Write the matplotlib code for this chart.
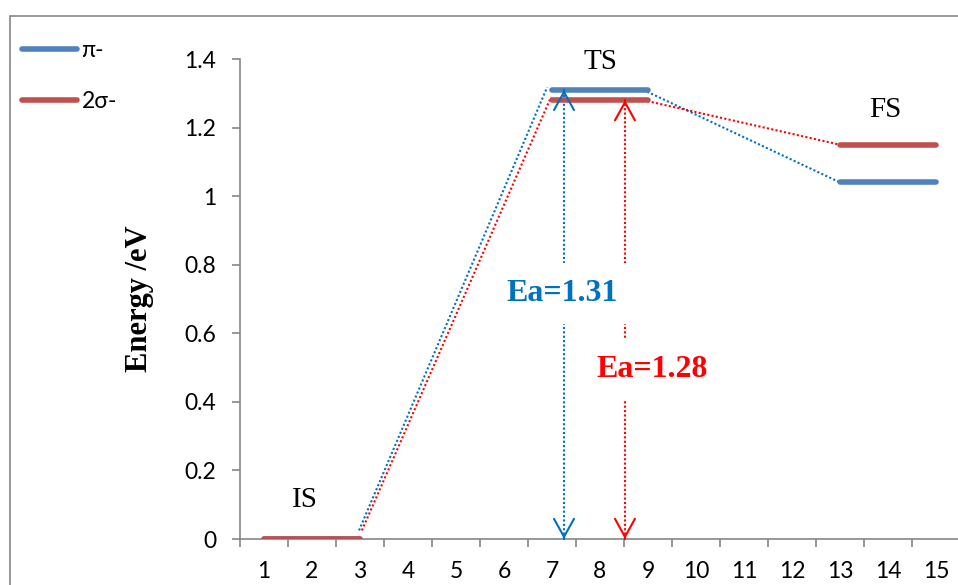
import numpy as np
import matplotlib.pyplot as plt
from matplotlib.patches import Rectangle

# energy levels (eV) along the reaction coordinate
states = ['IS', 'TS', 'FS']
state_start = [1, 7, 13]
state_end = [3, 9, 15]
pi_levels = [0.0, 1.31, 1.04]
sigma_levels = [0.0, 1.28, 1.15]
categories = list(range(1, 16))
yticks = [0, 0.2, 0.4, 0.6, 0.8, 1.0, 1.2, 1.4]
ytick_labels = ['0', '0.2', '0.4', '0.6', '0.8', '1', '1.2', '1.4']
series_names = ['π-', '2σ-']

pi_color = '#4F81BD'
sigma_color = '#C0504D'
pi_dot = '#0070C0'
sigma_dot = '#FF0000'
grey = '#868686'

plt.rcParams['font.family'] = ['Lato', 'DejaVu Sans']
serif = ['Liberation Serif', 'DejaVu Serif']

fig = plt.figure(figsize=(9.58, 5.85), dpi=100)
ax = fig.add_axes([240 / 958, 46 / 585, 720 / 958, 480 / 585])

# outer chart border
top = 1 - 16 / 585
fig.patches.append(Rectangle((9.5 / 958, -0.1), 1.2, top + 0.1,
                             transform=fig.transFigure, fill=False,
                             edgecolor=grey, lw=1.2))

dots = (0, (1, 1.1))

# dotted connectors between the levels
ax.plot([state_end[0] - 0.02, state_start[1] - 0.1],
        [pi_levels[0] + 0.025, pi_levels[1] + 0.008],
        color=pi_dot, lw=1.5, ls=dots, zorder=2)
ax.plot([state_end[0] + 0.04, state_start[1] - 0.02],
        [sigma_levels[0] + 0.025, sigma_levels[1] + 0.009],
        color=sigma_dot, lw=1.5, ls=dots, zorder=2)
ax.plot([state_end[1] - 0.1, state_start[2]],
        [pi_levels[1], pi_levels[2]],
        color=pi_dot, lw=1.5, ls=dots, zorder=2)
ax.plot([state_end[1] - 0.1, state_start[2]],
        [sigma_levels[1], sigma_levels[2]],
        color=sigma_dot, lw=1.5, ls=dots, zorder=2)

# level bars
pi_line = sigma_line = None
for s, e, p in zip(state_start, state_end, pi_levels):
    pi_line, = ax.plot([s, e], [p, p], color=pi_color, lw=4,
                       solid_capstyle='round', zorder=3)
for s, e, q in zip(state_start, state_end, sigma_levels):
    sigma_line, = ax.plot([s, e], [q, q], color=sigma_color, lw=4,
                          solid_capstyle='round', zorder=3)


def barrier_arrow(x, top, color):
    ax.plot([x, x], [0, top], color=color, lw=1.5, ls=dots, zorder=2)
    for tip, tail in ((top, top - 0.001), (0, 0.001)):
        ax.annotate('', xy=(x, tip), xytext=(x, tail),
                    arrowprops=dict(arrowstyle='->,head_length=1.3,head_width=0.72',
                                    color=color, lw=1.5, shrinkA=0, shrinkB=0),
                    zorder=4)


ea_pi = pi_levels[1] - pi_levels[0]
ea_sigma = sigma_levels[1] - sigma_levels[0]
barrier_arrow(7.25, pi_levels[1], pi_dot)
barrier_arrow(8.52, sigma_levels[1], sigma_dot)

ax.text(7.21, 0.717, f'Ea={ea_pi:.2f}', color=pi_dot, fontsize=23,
        fontweight='bold', family=serif, ha='center', va='center', zorder=5,
        bbox=dict(boxstyle='square,pad=0.5', fc='white', ec='none'))
ax.text(9.08, 0.493, f'Ea={ea_sigma:.2f}', color=sigma_dot, fontsize=23,
        fontweight='bold', family=serif, ha='center', va='center', zorder=5,
        bbox=dict(boxstyle='square,pad=0.5', fc='white', ec='none'))

# state names
ax.text(1.85, pi_levels[0] + 0.114, states[0], fontsize=21, family=serif,
        ha='center', va='center')
ax.text(8.0, pi_levels[1] + 0.08, states[1], fontsize=21, family=serif,
        ha='center', va='center')
ax.text(13.94, sigma_levels[2] + 0.10, states[2], fontsize=21, family=serif,
        ha='center', va='center')

ax.set_xlim(0.5, 15.5)
ax.set_ylim(0, 1.4)
ax.set_xticks(np.arange(0.5, 16, 1))
ax.set_xticklabels([])
ax.set_xticks(categories, minor=True)
ax.set_xticklabels([str(c) for c in categories], minor=True)
ax.set_yticks(yticks)
ax.set_yticklabels(ytick_labels)
ax.tick_params(axis='x', which='major', direction='out', length=6, width=1.2, color=grey)
ax.tick_params(axis='x', which='minor', length=0, pad=16, labelsize=16.5)
ax.tick_params(axis='y', direction='out', length=6, width=1.2, color=grey,
               pad=11, labelsize=16.5)
for side in ('top', 'right'):
    ax.spines[side].set_visible(False)
for side in ('left', 'bottom'):
    ax.spines[side].set_color(grey)
    ax.spines[side].set_linewidth(1.2)

ax.set_ylabel('Energy /eV', fontsize=22, fontweight='bold', family=serif,
              labelpad=22)

ax.legend([pi_line, sigma_line], series_names, loc='upper left',
          bbox_to_anchor=(22 / 958, 1 - 40 / 585), bbox_transform=fig.transFigure,
          frameon=False, fontsize=16.5, handlelength=2.4, handletextpad=0.2,
          labelspacing=1.3, borderpad=0, borderaxespad=0)

fig.savefig('out.png', dpi=100)
